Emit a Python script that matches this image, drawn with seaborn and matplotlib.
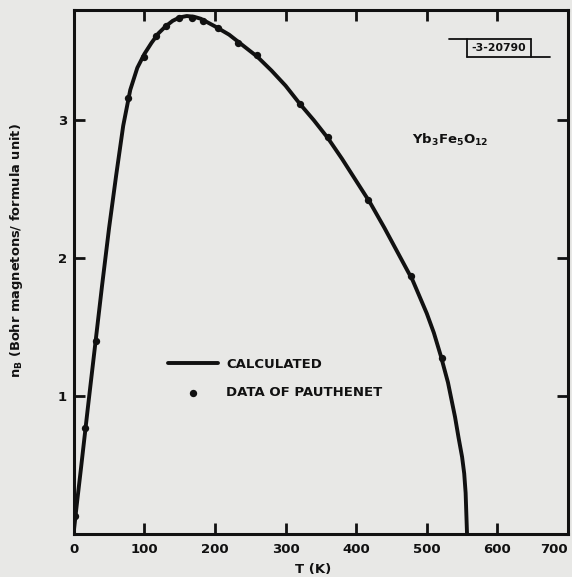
import matplotlib
matplotlib.use("Agg")
import matplotlib.pyplot as plt
from matplotlib.lines import Line2D
import seaborn as sns
import pandas as pd

# calculated curve
t_calc = [0, 5, 10, 20, 30, 40, 50, 60, 70, 80, 90, 100, 110, 120, 130, 140,
          150, 160, 170, 180, 200, 220, 240, 260, 280, 300, 320, 340, 360, 380,
          400, 420, 440, 460, 480, 500, 510, 520, 530, 540, 545, 550, 553, 555,
          556, 557]
n_calc = [0.02, 0.25, 0.47, 0.92, 1.36, 1.80, 2.22, 2.60, 2.96, 3.22, 3.38,
          3.48, 3.56, 3.63, 3.68, 3.72, 3.745, 3.755, 3.75, 3.735, 3.68, 3.62,
          3.54, 3.46, 3.36, 3.25, 3.12, 3.00, 2.87, 2.72, 2.56, 2.40, 2.22,
          2.03, 1.84, 1.60, 1.46, 1.29, 1.10, 0.85, 0.70, 0.56, 0.44, 0.30,
          0.15, 0.0]

# data of Pauthenet
t_data = [2, 16, 31, 77, 99, 117, 131, 149, 167, 183, 204, 233, 260, 320, 360,
          417, 477, 521]
n_data = [0.13, 0.77, 1.40, 3.16, 3.46, 3.61, 3.68, 3.74, 3.74, 3.72, 3.67,
          3.56, 3.47, 3.12, 2.88, 2.42, 1.87, 1.28]

x_ticks = [0, 100, 200, 300, 400, 500, 600, 700]
y_ticks = [1, 2, 3]

paper = "#e8e8e6"
ink = "#111111"

sns.set_theme(style="ticks")
plt.rcParams["font.family"] = ["DejaVu Sans"]
plt.rcParams["font.weight"] = "bold"

calc = pd.DataFrame({"T": t_calc, "n": n_calc})
data = pd.DataFrame({"T": t_data, "n": n_data})

fig = plt.figure(figsize=(5.72, 5.77), dpi=100, facecolor=paper)
ax = fig.add_axes([0.129, 0.074, 0.864, 0.909])
ax.set_facecolor(paper)

sns.lineplot(data=calc, x="T", y="n", ax=ax, color=ink, linewidth=2.8,
             sort=False, label="CALCULATED")
sns.scatterplot(data=data, x="T", y="n", ax=ax, color=ink, s=28,
                edgecolor=ink, linewidth=0, zorder=3, label="DATA OF PAUTHENET")

ax.set_xlim(0, 700)
ax.set_ylim(0, 3.8)
ax.set_xticks(x_ticks)
ax.set_yticks(y_ticks)
ax.set_xticklabels([str(v) for v in x_ticks], fontsize=9.5, fontweight="bold")
ax.set_yticklabels([str(v) for v in y_ticks], fontsize=9.5, fontweight="bold")
ax.get_xticklabels()[-1].set_horizontalalignment("right")
ax.tick_params(direction="in", length=8, width=2, colors=ink, pad=5,
               top=True, right=True)
ax.tick_params(axis="x", pad=6)
for s in ax.spines.values():
    s.set_linewidth(2.2)
    s.set_color(ink)

ax.set_xlabel("T (K)", fontsize=9.5, fontweight="bold", color=ink)
ax.xaxis.set_label_coords(0.484, -0.055)
ax.set_ylabel(r"n$_\mathregular{B}$ (Bohr magnetons/ formula unit)",
              fontsize=9.4, fontweight="bold", color=ink)
ax.yaxis.set_label_coords(-0.099, 0.54)

leg = ax.legend(loc="upper left", bbox_to_anchor=(0.167, 0.359), frameon=False,
                fontsize=9.5, handlelength=3.8, handletextpad=0.6,
                labelspacing=1.15)
for txt in leg.get_texts():
    txt.set_fontweight("bold")
    txt.set_color(ink)

ax.text(0.685, 0.745, r"Yb$_3$Fe$_5$O$_{12}$", transform=ax.transAxes,
        fontsize=9.5, fontweight="bold", color=ink)

# plate number box
ax.text(0.860, 0.927, "-3-20790", transform=ax.transAxes, fontsize=7.8,
        fontweight="bold", color=ink, ha="center", va="center")
for xs, ys in [([0.759, 0.925], [0.945, 0.945]),
               ([0.796, 0.964], [0.910, 0.910]),
               ([0.796, 0.796], [0.910, 0.945]),
               ([0.925, 0.925], [0.910, 0.945])]:
    ax.add_line(Line2D(xs, ys, transform=ax.transAxes, color=ink, lw=1.3))

fig.savefig("out.png", dpi=100, facecolor=paper)
